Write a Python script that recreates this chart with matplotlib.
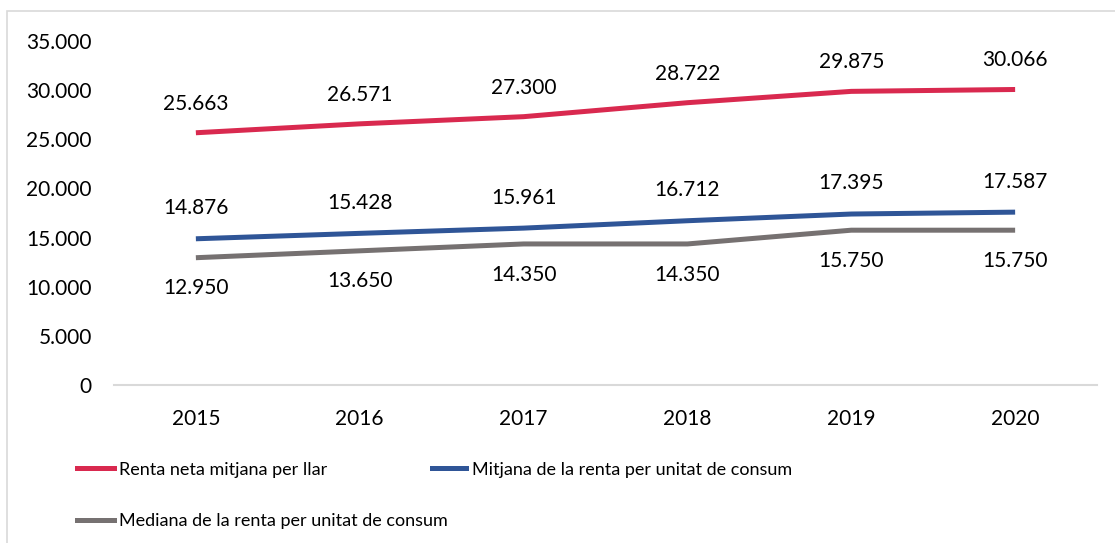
import matplotlib
matplotlib.use('Agg')
import matplotlib.pyplot as plt
from matplotlib.ticker import FuncFormatter
from matplotlib.patches import Rectangle
from matplotlib.lines import Line2D

years = ['2015', '2016', '2017', '2018', '2019', '2020']
renta_llar = [25663, 26571, 27300, 28722, 29875, 30066]
mitjana_uc = [14876, 15428, 15961, 16712, 17395, 17587]
mediana_uc = [12950, 13650, 14350, 14350, 15750, 15750]

red = '#D9294F'
blue = '#2F5597'
grey = '#767171'

plt.rcParams['font.family'] = ['Lato', 'DejaVu Sans']
fs = 15
fs_leg = 13


def fmt(v):
    return f'{int(v):,}'.replace(',', '.')


fig = plt.figure(figsize=(11.15, 5.43), dpi=100)
ax = fig.add_axes([0.1022, 0.291, 0.8817, 0.6335])

x = range(len(years))
ax.plot(x, renta_llar, color=red, lw=3.6, solid_capstyle='butt')
ax.plot(x, mitjana_uc, color=blue, lw=3.6, solid_capstyle='butt')
ax.plot(x, mediana_uc, color=grey, lw=3.6, solid_capstyle='butt')

for i in x:
    ax.annotate(fmt(renta_llar[i]), (i, renta_llar[i]), xytext=(0, 21), textcoords='offset points',
                ha='center', va='center', fontsize=fs)
    ax.annotate(fmt(mitjana_uc[i]), (i, mitjana_uc[i]), xytext=(0, 22), textcoords='offset points',
                ha='center', va='center', fontsize=fs)
    ax.annotate(fmt(mediana_uc[i]), (i, mediana_uc[i]), xytext=(0, -22), textcoords='offset points',
                ha='center', va='center', fontsize=fs)

ax.set_xlim(-0.5, len(years) - 0.5)
ax.set_ylim(0, 35000)
ax.set_yticks(range(0, 35001, 5000))
ax.yaxis.set_major_formatter(FuncFormatter(lambda v, p: fmt(v)))
ax.set_xticks(list(x))
ax.set_xticklabels(years)
ax.tick_params(axis='both', length=0, labelsize=fs)
ax.tick_params(axis='y', pad=16)
ax.tick_params(axis='x', pad=17)

for s in ['top', 'right', 'left']:
    ax.spines[s].set_visible(False)
ax.spines['bottom'].set_color('#D9D9D9')
ax.spines['bottom'].set_linewidth(1.5)

# legend
h_red = Line2D([], [], color=red, lw=3.6)
h_blue = Line2D([], [], color=blue, lw=3.6)
h_grey = Line2D([], [], color=grey, lw=3.6)
leg1 = fig.legend([h_red, h_grey], ['Renta neta mitjana per llar', 'Mediana de la renta per unitat de consum'],
                  loc='upper left', bbox_to_anchor=(0.063, 0.163), frameon=False, fontsize=fs_leg,
                  handlelength=2.05, handletextpad=0.25, labelspacing=1.95, borderaxespad=0)
leg2 = fig.legend([h_blue], ['Mitjana de la renta per unitat de consum'],
                  loc='upper left', bbox_to_anchor=(0.381, 0.163), frameon=False, fontsize=fs_leg,
                  handlelength=1.9, handletextpad=0.3, borderaxespad=0)

# chart border
fig.patches.append(Rectangle((7 / 1115, -0.1), 1.2, 1 - 11 / 543 + 0.1, transform=fig.transFigure,
                             fill=False, edgecolor='#D9D9D9', lw=1.2))

fig.savefig('out.png', dpi=100)
